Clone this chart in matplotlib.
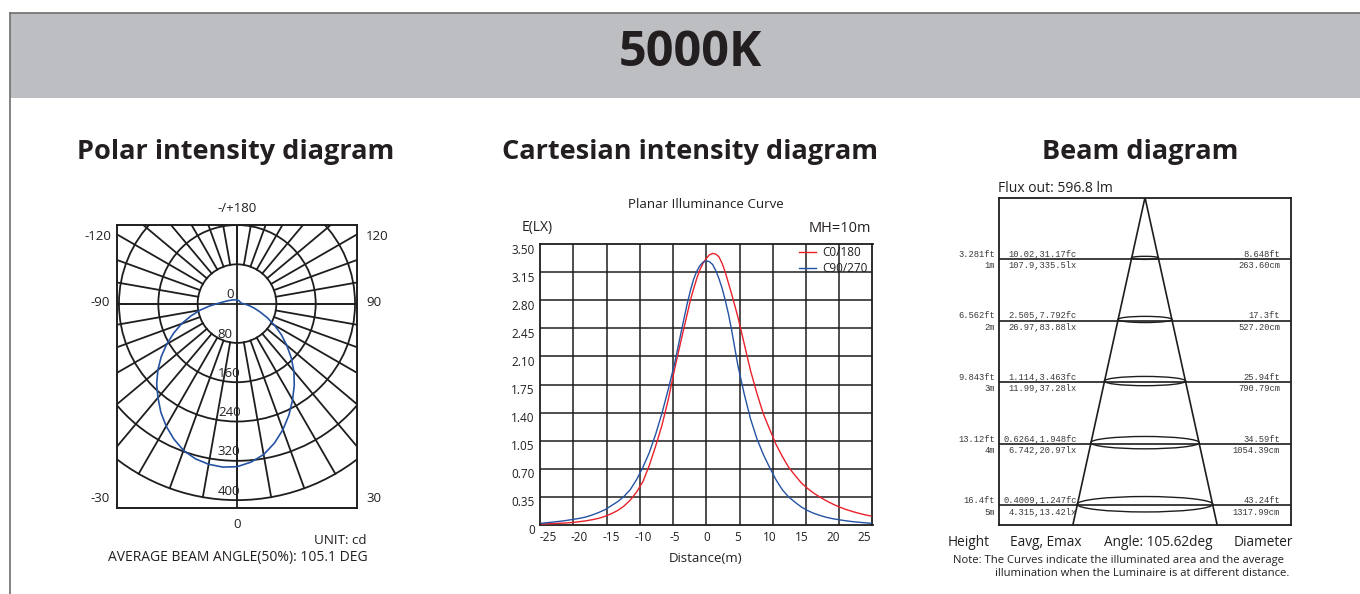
import numpy as np
import matplotlib.pyplot as plt
from matplotlib.patches import Rectangle, Circle, Ellipse
from matplotlib.lines import Line2D
from matplotlib.transforms import ScaledTranslation

plt.rcParams['font.family'] = ['Open Sans', 'DejaVu Sans']

W, H = 1360, 594
INK = '#231f20'
RED = '#e8212b'
BLUE = '#2553a3'
GRID = '#1e1e1e'

# ---- polar intensity (cd), angle from nadir in degrees ----
polar_angle = [-180, -160, -140, -120, -110, -100,
               -90, -85, -80, -75, -70, -65, -60, -55, -50, -45, -40, -35,
               -30, -25, -20, -15, -10, -5, 0, 5, 10, 15, 20, 25, 30, 35,
               40, 45, 50, 55, 60, 65, 70, 75, 80, 85, 90,
               100, 120, 140, 160, 180]
polar_cd = [7, 8, 10, 14, 18, 25,
            40, 56, 76, 97, 120, 142, 165, 188, 210, 231, 250, 270,
            288, 304, 318, 327, 332, 334, 332, 324, 312, 294, 273, 250, 226, 203,
            180, 156, 132, 110, 88, 68, 50, 37, 26, 18, 12,
            8, 7, 7, 7, 7]
polar_rings = [0, 80, 160, 240, 320, 400]
spoke_step = 10

# ---- planar illuminance curve, MH = 10 m ----
distance = [-26, -25, -24, -23, -22, -21, -20, -19, -18, -17, -16, -15, -14,
            -13, -12, -11, -10, -9, -8, -7, -6, -5, -4,
            -3, -2.5, -2, -1.5, -1, -0.5, 0, 0.5, 1, 1.5, 2, 2.5, 3, 3.5, 4,
            5, 6, 7, 8, 9, 10, 11, 12, 13,
            14, 15, 16, 17, 18, 19, 20, 21, 22, 23, 24, 25, 26]
lux_c0 = [0.013, 0.015, 0.018, 0.022, 0.026, 0.032, 0.042, 0.052, 0.066,
          0.083, 0.108, 0.14, 0.18, 0.235, 0.31, 0.41, 0.54, 0.74, 0.98,
          1.24, 1.56, 1.94, 2.29,
          2.63, 2.80, 2.94, 3.07, 3.18, 3.26, 3.32, 3.365, 3.383, 3.375, 3.34,
          3.26, 3.15, 3.015, 2.88,
          2.59, 2.255, 1.92, 1.64, 1.387, 1.195, 1.006, 0.856, 0.72,
          0.62, 0.525, 0.455, 0.395, 0.345, 0.30, 0.26, 0.225, 0.195, 0.17,
          0.148, 0.128, 0.112]
lux_c90 = [0.022, 0.03, 0.038, 0.047, 0.058, 0.07, 0.083, 0.10, 0.125, 0.155,
           0.19, 0.24, 0.29, 0.355, 0.44, 0.565, 0.72, 0.90, 1.128, 1.39,
           1.69, 2.01, 2.39,
           2.76, 2.92, 3.06, 3.16, 3.23, 3.275, 3.29, 3.28, 3.245, 3.17, 3.07,
           2.95, 2.80, 2.63, 2.43,
           1.985, 1.63, 1.32, 1.075, 0.88, 0.717, 0.565, 0.44, 0.35,
           0.285, 0.225, 0.18, 0.145, 0.118, 0.095, 0.078, 0.065, 0.053,
           0.043, 0.035, 0.028, 0.022]
x_ticks = [-25, -20, -15, -10, -5, 0, 5, 10, 15, 20, 25]
y_ticks = [0, 0.35, 0.70, 1.05, 1.40, 1.75, 2.10, 2.45, 2.80, 3.15, 3.50]
y_tick_labels = ['0', '0.35', '0.70', '1.05', '1.40', '1.75', '2.10', '2.45',
                 '2.80', '3.15', '3.50']

# ---- beam diagram ----
beam_h = [1, 2, 3, 4, 5]
beam_h_ft = ['3.281ft', '6.562ft', '9.843ft', '13.12ft', '16.4ft']
beam_fc = ['10.02,31.17fc', '2.505,7.792fc', '1.114,3.463fc',
           '0.6264,1.948fc', '0.4009,1.247fc']
beam_lx = ['107.9,335.5lx', '26.97,83.88lx', '11.99,37.28lx',
           '6.742,20.97lx', '4.315,13.42lx']
beam_d_ft = ['8.648ft', '17.3ft', '25.94ft', '34.59ft', '43.24ft']
beam_d_cm = [263.60, 527.20, 790.79, 1054.39, 1317.99]


def fx(px):
    return px / W


def fy(py):
    return 1 - py / H


fig = plt.figure(figsize=(W / 100, H / 100), dpi=100)


def ftext(px, py, s, **kw):
    kw.setdefault('color', INK)
    fig.text(fx(px), fy(py), s, **kw)


# header band
fig.add_artist(Rectangle((fx(10), fy(98)), fx(1360) - fx(10), (98 - 13) / H,
                         transform=fig.transFigure, facecolor='#bdbec1',
                         edgecolor='none'))
fig.add_artist(Line2D([fx(10), fx(1360)], [fy(13), fy(13)],
                      transform=fig.transFigure, color='#6e6e6e', lw=1.2))
fig.add_artist(Line2D([fx(10), fx(10)], [fy(13), fy(594)],
                      transform=fig.transFigure, color='#6e6e6e', lw=1.2))
ftext(690, 53, '5000K', ha='center', va='center', fontsize=35,
      fontweight='bold')

ftext(236, 152, 'Polar intensity diagram', ha='center', va='center',
      fontsize=19.5, fontweight='bold')
ftext(690, 152, 'Cartesian intensity diagram', ha='center', va='center',
      fontsize=19.5, fontweight='bold')
ftext(1140, 152, 'Beam diagram', ha='center', va='center',
      fontsize=19.5, fontweight='bold')

# ---------------- polar ----------------
ax1 = fig.add_axes([fx(117), fy(508), 240 / W, 283 / H])
ax1.set_xlim(-244, 244)
ax1.set_ylim(-416, 160)
ax1.set_xticks([])
ax1.set_yticks([])
for sp in ax1.spines.values():
    sp.set_linewidth(1.4)
    sp.set_color(GRID)

for r in polar_rings[1:]:
    ax1.add_patch(Circle((0, 0), r, fill=False, lw=1.3, edgecolor=GRID))
for a in range(0, 360, spoke_step):
    t = np.radians(a)
    ax1.plot([polar_rings[1] * np.sin(t), polar_rings[-1] * np.sin(t)],
             [-polar_rings[1] * np.cos(t), -polar_rings[-1] * np.cos(t)],
             color=GRID, lw=1.3)
ax1.axhline(0, color=GRID, lw=1.3)
ax1.axvline(0, color=GRID, lw=1.3)

t = np.radians(polar_angle)
cd = np.array(polar_cd)
ax1.plot(cd * np.sin(t), -cd * np.cos(t), color=BLUE, lw=1.2)

for r in polar_rings:
    ax1.text(-22 if r == 0 else -39, -r + 18, str(r), ha='left', va='center',
             fontsize=9.5, color=INK)

ftext(237, 209, '-/+180', ha='center', va='center', fontsize=9.5)
ftext(111, 236, '-120', ha='right', va='center', fontsize=9.5)
ftext(366, 236, '120', ha='left', va='center', fontsize=9.5)
ftext(110, 302, '-90', ha='right', va='center', fontsize=9.5)
ftext(366, 302, '90', ha='left', va='center', fontsize=9.5)
ftext(110, 499, '-30', ha='right', va='center', fontsize=9.5)
ftext(366, 499, '30', ha='left', va='center', fontsize=9.5)
ftext(237, 525, '0', ha='center', va='center', fontsize=9.5)
ftext(367, 541, 'UNIT: cd', ha='right', va='center', fontsize=9.6)
ftext(237.5, 558, 'AVERAGE BEAM ANGLE(50%): 105.1 DEG', ha='center',
      va='center', fontsize=10)

# ---------------- cartesian ----------------
ax2 = fig.add_axes([fx(540), fy(525), 332.5 / W, 281 / H])
xmax = 26.25
ax2.set_xlim(-xmax, xmax)
ax2.set_ylim(0, 3.5)
for i in range(1, 10):
    ax2.axvline(-xmax + i * 2 * xmax / 10, color=GRID, lw=1.1, zorder=1)
for yv in y_ticks[1:-1]:
    ax2.axhline(yv, color=GRID, lw=1.1, zorder=1)
for sp in ax2.spines.values():
    sp.set_linewidth(1.3)
    sp.set_color(GRID)

ax2.plot(distance, lux_c0, color=RED, lw=1.0, label='C0/180', zorder=3)
ax2.plot(distance, lux_c90, color=BLUE, lw=1.0, label='C90/270', zorder=3)

ax2.set_xticks(x_ticks)
ax2.set_xticklabels([str(v) for v in x_ticks])
ax2.set_yticks(y_ticks)
ax2.set_yticklabels(y_tick_labels)
ax2.tick_params(length=0, labelsize=8.5, colors=INK, pad=4)
ax2.tick_params(axis='y', pad=3.8)
off = ScaledTranslation(0, -4.5 / 100, fig.dpi_scale_trans)
for lab in ax2.get_yticklabels():
    lab.set_transform(lab.get_transform() + off)

leg = ax2.legend(loc='upper right', bbox_to_anchor=(0.991, 1.0), frameon=False,
                 fontsize=8.5, handlelength=1.45, handletextpad=0.5,
                 labelspacing=0.2, borderpad=0.2, borderaxespad=0)
for txt in leg.get_texts():
    txt.set_color(INK)

ftext(706, 205, 'Planar Illuminance Curve', ha='center', va='center',
      fontsize=9.6)
ftext(522, 228, 'E(LX)', ha='left', va='center', fontsize=10)
ftext(871, 228, 'MH=10m', ha='right', va='center', fontsize=10.5)
ftext(706, 558, 'Distance(m)', ha='center', va='center', fontsize=9.5)

# ---------------- beam ----------------
ax3 = fig.add_axes([fx(999), fy(525), 292 / W, 327.5 / H])
ax3.set_xlim(-1418, 1418)
ax3.set_ylim(5.317, 0)
ax3.set_xticks([])
ax3.set_yticks([])
for sp in ax3.spines.values():
    sp.set_linewidth(1.3)
    sp.set_color(GRID)

for side in (-1, 1):
    ax3.plot([0, side * beam_d_cm[-1] / 2 * 1.2], [0, beam_h[-1] * 1.2],
             color=GRID, lw=1.2)
for h, d in zip(beam_h, beam_d_cm):
    ax3.axhline(h, color=GRID, lw=1.2)
    ax3.add_patch(Ellipse((0, h - 0.02), width=d, height=d * 0.00019,
                          fill=False, edgecolor=GRID, lw=1.0))

tr = ax3.get_yaxis_transform()
mono = dict(family='Liberation Mono', fontsize=6.3, color='#3a3a3a')
for h, hf, fc, lx, dft, dcm in zip(beam_h, beam_h_ft, beam_fc, beam_lx,
                                   beam_d_ft, beam_d_cm):
    ax3.text(-0.014, h - 0.078, hf, transform=tr, ha='right', va='center',
             clip_on=False, **mono)
    ax3.text(-0.014, h + 0.108, f'{h}m', transform=tr, ha='right',
             va='center', clip_on=False, **mono)
    ax3.text(0.267, h - 0.078, fc, transform=tr, ha='right', va='center',
             **mono)
    ax3.text(0.267, h + 0.108, lx, transform=tr, ha='right', va='center',
             **mono)
    ax3.text(0.962, h - 0.078, dft, transform=tr, ha='right', va='center',
             **mono)
    ax3.text(0.962, h + 0.108, f'{dcm:.2f}cm', transform=tr, ha='right',
             va='center', **mono)

ftext(998, 188, 'Flux out: 596.8 lm', ha='left', va='center', fontsize=10)
ftext(969, 542, 'Height', ha='center', va='center', fontsize=9.8)
ftext(1046, 542, 'Eavg, Emax', ha='center', va='center', fontsize=9.8)
ftext(1158, 542, 'Angle: 105.62deg', ha='center', va='center', fontsize=9.8)
ftext(1263, 542, 'Diameter', ha='center', va='center', fontsize=9.8)
ftext(953, 561, 'Note: The Curves indicate the illuminated area and the average',
      ha='left', va='center', fontsize=8.1)
ftext(995, 574, 'illumination when the Luminaire is at different distance.',
      ha='left', va='center', fontsize=8.1)

fig.savefig('out.png', dpi=100)
